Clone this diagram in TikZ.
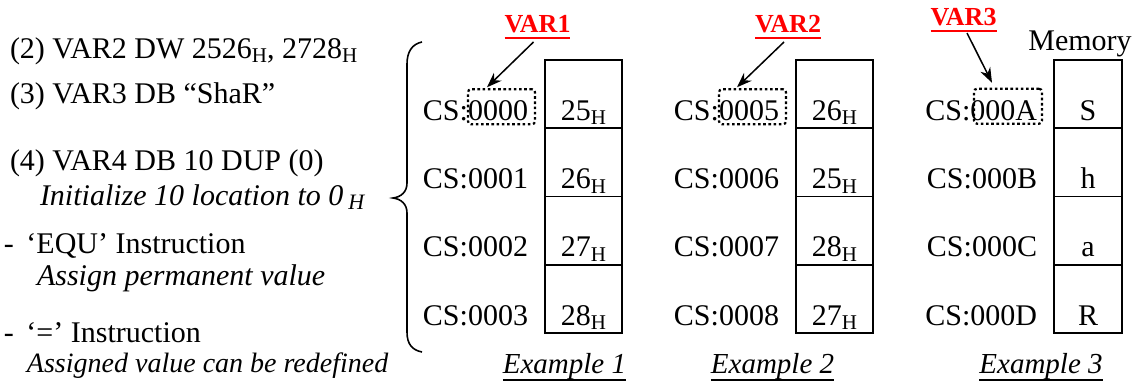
\documentclass[tikz,border=0pt]{standalone}
\usepackage{fontspec}
\setmainfont{Liberation Serif}
\usetikzlibrary{arrows.meta}
% hexadecimal subscripts
\newcommand\subH{\raisebox{-4.5pt}{\fontsize{21}{21}\selectfont H}}
\newcommand\subHi{\raisebox{-4pt}{\fontsize{22}{22}\selectfont\itshape H}}
\begin{document}
\begin{tikzpicture}[x=1pt,y=-1pt,
  every node/.style={inner sep=0pt, outer sep=0pt, font=\fontsize{30}{36}\selectfont},
  txt/.style={anchor=base west},
  note/.style={anchor=base west, font=\fontsize{30}{36}\selectfont\itshape},
  cell/.style={draw, line width=1.8pt, anchor=north, minimum height=68.25pt,
               text height=60.25pt, text depth=8pt},
  addr/.style={anchor=base east},
  hl/.style={draw, line width=2.2pt, dash pattern=on 2.6pt off 2.6pt,
             rounded corners=3pt, minimum height=35pt},
  varlbl/.style={anchor=base, text=red, font=\fontsize{26}{30}\selectfont\bfseries},
  ex/.style={anchor=base, font=\fontsize{29}{34}\selectfont\itshape},
  ptr/.style={line width=1.5pt, -{Stealth[length=15pt,width=11pt]}},
]
\useasboundingbox (0,0) rectangle (1140,383);

% directive listing
\node[txt] (t2) at (10,58) {(2) VAR2 DW 2526\subH, 2728\subH};
\node[txt] (t3) at (10,103) {(3) VAR3 DB “ShaR”};
\node[txt] (t4) at (10,170) {(4) VAR4 DB 10 DUP (0)};
\node[note] (n4) at (40,205) {Initialize 10 location to 0\,\subHi};
\node[txt] (t5) at (4,253) {- \,‘EQU’ Instruction};
\node[note] (n5) at (37,285) {Assign permanent value};
\node[txt] (t6) at (4,342) {- \,‘=’ Instruction};
\node[note, font=\fontsize{28}{34}\selectfont\itshape] (n6) at (27,372) {Assigned value can be redefined};

% curly brace
\draw[line width=1.6pt] (422,42) .. controls (412,44) and (407,52) .. (407,64)
  -- (407,183) .. controls (407,192) and (401,197) .. (393,198)
  .. controls (401,199) and (407,204) .. (407,213)
  -- (407,332) .. controls (407,344) and (412,350) .. (422,352);

% Example 1 memory column
\node[cell, minimum width=77pt] (a1) at (583.5,60) {25\subH};
\node[cell, minimum width=77pt] (a2) at (a1.south) {26\subH};
\node[cell, minimum width=77pt] (a3) at (a2.south) {27\subH};
\node[cell, minimum width=77pt] (a4) at (a3.south) {28\subH};
\node[addr] (la1) at ([xshift=-17pt]a1.base west) {CS:0000};
\node[addr] (la2) at ([xshift=-17pt]a2.base west) {CS:0001};
\node[addr] (la3) at ([xshift=-17pt]a3.base west) {CS:0002};
\node[addr] (la4) at ([xshift=-17pt]a4.base west) {CS:0003};

% Example 2 memory column
\node[cell, minimum width=77pt] (b1) at (834.5,60) {26\subH};
\node[cell, minimum width=77pt] (b2) at (b1.south) {25\subH};
\node[cell, minimum width=77pt] (b3) at (b2.south) {28\subH};
\node[cell, minimum width=77pt] (b4) at (b3.south) {27\subH};
\node[addr] (lb1) at ([xshift=-17pt]b1.base west) {CS:0005};
\node[addr] (lb2) at ([xshift=-17pt]b2.base west) {CS:0006};
\node[addr] (lb3) at ([xshift=-17pt]b3.base west) {CS:0007};
\node[addr] (lb4) at ([xshift=-17pt]b4.base west) {CS:0008};

% Example 3 memory column
\node[cell, minimum width=68pt] (c1) at (1088,60) {S};
\node[cell, minimum width=68pt] (c2) at (c1.south) {h};
\node[cell, minimum width=68pt] (c3) at (c2.south) {a};
\node[cell, minimum width=68pt] (c4) at (c3.south) {R};
\node[addr] (lc1) at ([xshift=-17pt]c1.base west) {CS:000A};
\node[addr] (lc2) at ([xshift=-17pt]c2.base west) {CS:000B};
\node[addr] (lc3) at ([xshift=-17pt]c3.base west) {CS:000C};
\node[addr] (lc4) at ([xshift=-17pt]c4.base west) {CS:000D};
\node[anchor=base] (mem) at (1080,50) {Memory};

% highlighted offsets
\node[hl, minimum width=67pt] (h1) at ([xshift=-26.5pt,yshift=13.5pt]la1.base east) {};
\node[hl, minimum width=67pt] (h2) at ([xshift=-26.5pt,yshift=13.5pt]lb1.base east) {};
\node[hl, minimum width=68pt] (h3) at ([xshift=-29pt,yshift=14pt]lc1.base east) {};

% variable names with pointers
\node[varlbl] (v1) at (537.5,32) {VAR1};
\node[varlbl] (v2) at (788,32) {VAR2};
\node[varlbl] (v3) at (963.5,25) {VAR3};
\foreach \v in {v1,v2,v3}
  \draw[red, line width=2.2pt] ([yshift=-6pt]\v.base west) -- ([yshift=-6pt]\v.base east);
\draw[ptr] ([xshift=-4pt,yshift=-10pt]v1.base) -- ([xshift=19pt,yshift=2pt]h1.north west);
\draw[ptr] ([xshift=-4pt,yshift=-10pt]v2.base) -- ([xshift=18pt,yshift=2pt]h2.north west);
\draw[ptr] ([xshift=3.5pt,yshift=-8pt]v3.base) -- ([xshift=18pt,yshift=6pt]h3.north west);

% captions
\node[ex] (e1) at (564.5,373) {Example 1};
\node[ex] (e2) at (772.5,373) {Example 2};
\node[ex] (e3) at (1041,373) {Example 3};
\foreach \e in {e1,e2,e3}
  \draw[line width=1.4pt] ([yshift=-7pt]\e.base west) -- ([yshift=-7pt]\e.base east);
\end{tikzpicture}
\end{document}
